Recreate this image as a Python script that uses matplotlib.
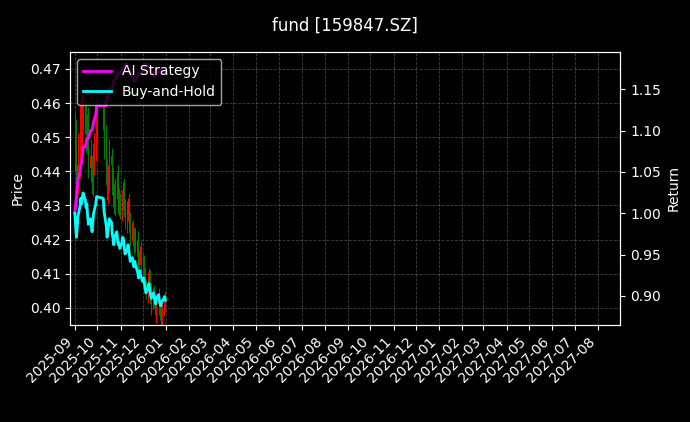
import matplotlib
matplotlib.use("Agg")
import matplotlib.pyplot as plt
import matplotlib.dates as mdates
import pandas as pd
import numpy as np

closes = [.447,.440,.434,.438,.445,.451,.455,.452,.456,.458,.454,.450,.452,.446,.441,.444,.440,.437,.442,.447,.452,.456,
          .455,.448,.440,.434,.437,.440,.444,.442,.436,.433,.430,.434,.437,.433,.430,.431,.428,
          .431,.434,.433,.429,.425,.427,.430,.428,.424,.421,.423,.420,.418,.421,.419,.415,.412,.414,.416,.413,
          .410,.412,.409,.406,.404,.407,.409,.406,.403,.401,.404,.402,.400,.398,.401,.403,.400,.398,.397,.399,.401,.402,.400]
wicks = [.010,.012,.008,.006,.009,.014,.010,.007,.012,.008,.006,.009,.007,.010,.006,.008,.005,.007,.009,.006,.008,.007,
         .006,.009,.008,.005,.007,.006,.008,.004,.006,.007,.005,.006,.004,.007,.005,.006,.004,
         .005,.004,.006,.005,.004,.006,.003,.005,.004,.006,.003,.004,.005,.003,.004,.005,.003,.004,.003,.005,
         .004,.003,.005,.004,.003,.005,.004,.003,.004,.006,.003,.004,.003,.004,.005,.003,.004,.003,.004,.005,.003,.004,.003]
ai_ret = [1.00,1.01,1.02,1.03,1.04,1.05,1.06,1.06,1.07,1.08,1.08,1.085,1.09,1.09,1.09,1.10,1.10,1.10,1.105,1.11,1.12,1.13,
          1.13,1.13,1.13,1.14,1.14,1.145,1.15,1.15,1.15,1.155,1.16,1.16,1.165,1.165,1.17,1.17,1.17,
          1.17,1.175,1.175,1.18,1.18,1.18,1.175,1.175,1.17,1.17,1.165,1.165,1.16,1.16,1.16,1.165,1.17,1.17,1.17,1.17,
          1.17,1.175,1.175,1.18,1.18,1.18,1.175,1.175,1.17,1.17,1.17,1.165,1.165,1.17,1.17,1.17,1.175,1.175,1.17,1.17,1.17,1.17,1.17]

d = pd.bdate_range("2025-09-01", "2025-12-31")
d = d[(d < "2025-10-01") | (d > "2025-10-08")][:len(closes)]
c = np.array(closes)
o = np.concatenate([[c[0] + 0.003], c[:-1]])
w = np.array(wicks)
hi = np.maximum(o, c) + w * 0.7
lo = np.minimum(o, c) - w * 0.5
bh = c / c[0]

plt.style.use("dark_background")
fig = plt.figure(figsize=(6.9, 4.22), dpi=100)
ax = fig.add_axes([0.102, 0.23, 0.797, 0.647])
ax2 = ax.twinx()
fig.suptitle("fund [159847.SZ]", y=0.96, fontsize=12)

up = c >= o
cols = np.where(up, "red", "green")
ax.vlines(d, lo, hi, colors=cols, linewidth=0.7)
ax.bar(d, np.abs(c - o) + 0.0005, bottom=np.minimum(o, c), width=0.6, color=cols)
ax.set_ylabel("Price")
ax.set_ylim(0.395, 0.475)
ax.grid(True, linestyle="--", color="gray", alpha=0.5, linewidth=0.6)

ax2.plot(d, ai_ret, color="magenta", linewidth=2, label="AI Strategy")
ax2.plot(d, bh, color="cyan", linewidth=2, label="Buy-and-Hold")
ax2.set_ylabel("Return")
ax2.set_ylim(0.865, 1.195)
ax2.legend(loc="upper left", framealpha=0.8)

ax.set_xlim(pd.Timestamp("2025-08-26"), pd.Timestamp("2027-08-31"))
ax.xaxis.set_major_locator(mdates.MonthLocator())
ax.xaxis.set_major_formatter(mdates.DateFormatter("%Y-%m"))
for lab in ax.get_xticklabels():
    lab.set_rotation(45); lab.set_ha("right")
fig.savefig("out.png", dpi=100)
